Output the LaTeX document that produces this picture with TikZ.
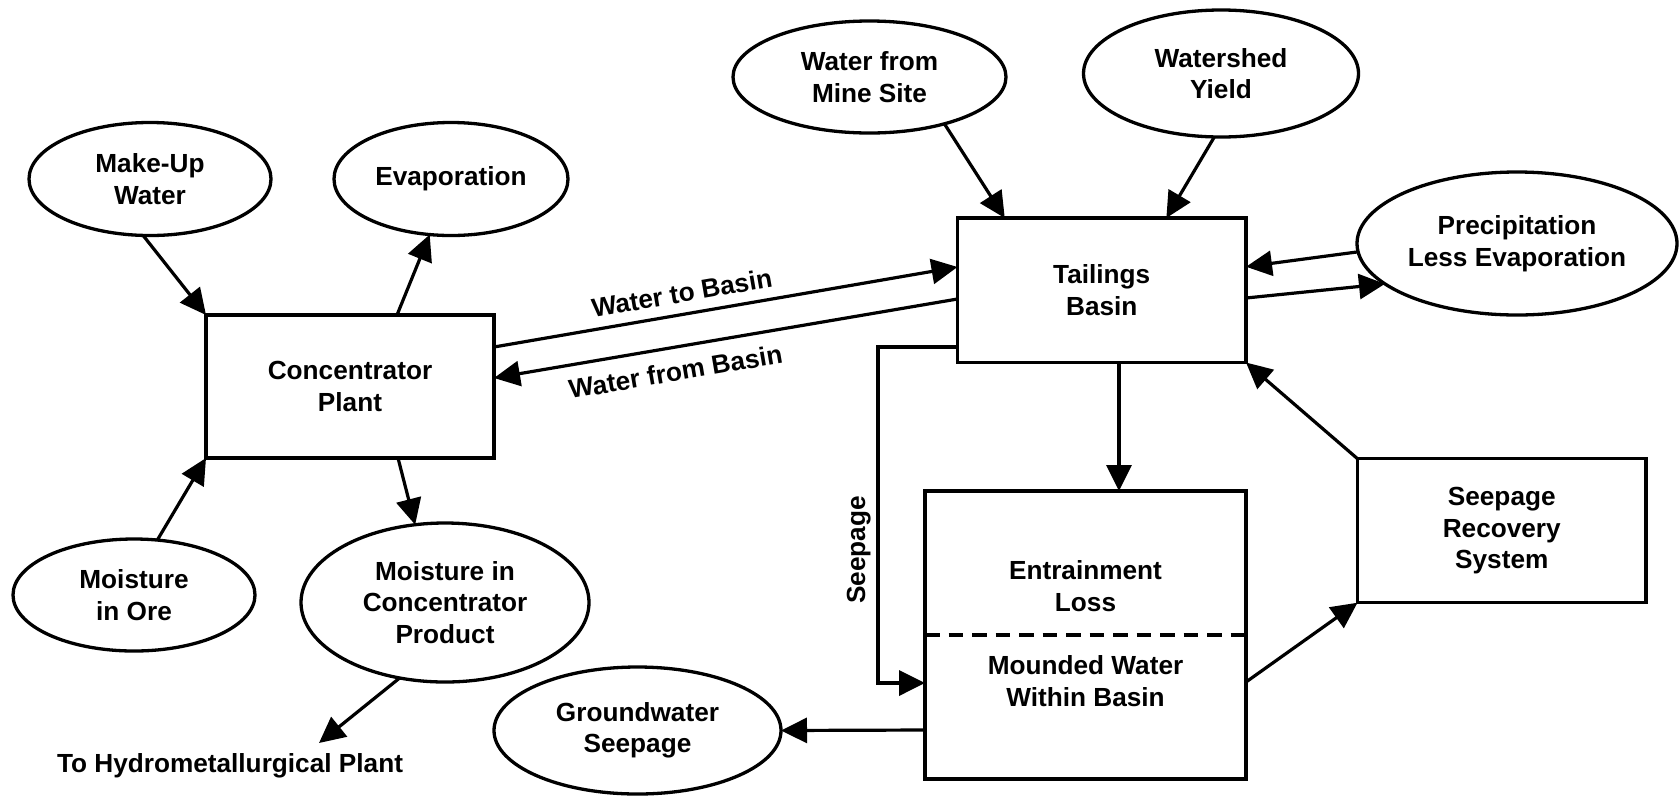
\documentclass[tikz,border=0pt]{standalone}
\usepackage{fontspec}
\setmainfont{Liberation Sans}
\usetikzlibrary{arrows.meta,shapes.geometric,calc}
\begin{document}
\begin{tikzpicture}[x=1pt,y=-1pt,
  every node/.style={font=\fontsize{26.2}{31.5}\selectfont\bfseries},
  oval/.style={draw, ellipse, line width=3.3pt, inner sep=0pt, outer sep=0pt, align=center},
  blk/.style={draw, rectangle, line width=3.5pt, inner sep=0pt, outer sep=0pt, align=center},
  lbl/.style={inner sep=0pt, align=center},
  txt/.style={inner sep=0pt},
  arr/.style={line width=3.2pt, -{Triangle[length=26pt,width=25pt]}},
  divider/.style={line width=3.5pt, dash pattern=on 14.5pt off 9pt}
]
\useasboundingbox (0,0) rectangle (1680,796);

% nodes
\node[oval, minimum width=242pt, minimum height=113pt] (mu) at (150,179) {Make-Up\\Water};
\node[oval, minimum width=234pt, minimum height=113pt] (ev) at (451,179) {Evaporation};
\node[blk, minimum width=288pt, minimum height=143pt] (cp) at (350,386.5) {Concentrator\\Plant};
\node[oval, minimum width=242pt, minimum height=112pt] (ore) at (134,595) {Moisture\\in Ore};
\node[oval, minimum width=288pt, minimum height=159pt] (prod) at (445,602.5) {Moisture in\\Concentrator\\Product};
\node[txt, anchor=base] (hydro) at (230,772.7) {To Hydrometallurgical Plant};
\coordinate (hydtip) at (319,743);
\node[oval, minimum width=273pt, minimum height=112pt] (wm) at (869.5,77) {Water from\\Mine Site};
\node[oval, minimum width=275pt, minimum height=127pt] (ws) at (1221,73.5) {Watershed\\Yield};
\node[oval, minimum width=320pt, minimum height=143pt] (pr) at (1517,243.5) {Precipitation\\Less Evaporation};
\node[blk, minimum width=288.5pt, minimum height=144.5pt] (tb) at (1101.75,290.25) {Tailings\\Basin};
\node[blk, minimum width=321pt, minimum height=288pt] (ec) at (1085.5,635) {};
\node[lbl] (ent) at (1085.5,586) {Entrainment\\Loss};
\node[lbl] (mnd) at (1085.5,681) {Mounded Water\\Within Basin};
\node[blk, minimum width=288.5pt, minimum height=144pt] (sr) at (1501.75,530.7) {Seepage\\Recovery\\System};
\node[oval, minimum width=287pt, minimum height=127pt] (gw) at (637.5,730.5) {Groundwater\\Seepage};
\coordinate (sp) at (878,683);

% divider inside basin box
\draw[divider] (ec.west) -- (ec.east);

% connectors
\draw[arr] (mu.-97) -- (cp.north west);
\draw[arr] ([xshift=47pt]cp.north) -- (ev.-111);
\draw[arr] (ore.67) -- (cp.south west);
\draw[arr] ([xshift=48pt]cp.south) -- (prod.111);
\draw[arr] (prod.-121) -- (hydtip);
\draw[arr] ([yshift=39.5pt]cp.east) -- ([yshift=23.25pt]tb.west)
  node[sloped, pos=0.413, above=10pt, inner sep=0pt] (wtb) {Water to Basin};
\draw[arr] ([yshift=-8.75pt]tb.west) -- ([yshift=8.5pt]cp.east)
  node[sloped, pos=0.617, below=13pt, inner sep=0pt] (wfb) {Water from Basin};
\draw[arr] (wm.-32) -- ([xshift=-97pt]tb.north);
\draw[arr] (ws.-96) -- ([xshift=64.6pt]tb.north);
\draw[arr] (pr.183) -- ([yshift=23.5pt]tb.east);
\draw[arr] ([yshift=-7.75pt]tb.east) -- (pr.-163);
\draw[arr] ([xshift=17.25pt]tb.south) -- ([xshift=33.5pt]ec.north);
\draw[arr, line width=3.6pt, line join=miter] ([yshift=-56.75pt]tb.west) -| (sp) -- (sp -| ec.west);
\node[txt, rotate=90, anchor=base] (seeplbl) at (865,550) {Seepage};
\draw[arr] ([yshift=-95pt]ec.west) -- (gw.east);
\draw[arr] ([yshift=-47pt]ec.east) -- (sr.south west);
\draw[arr] (sr.north west) -- (tb.south east);
\end{tikzpicture}
\end{document}
